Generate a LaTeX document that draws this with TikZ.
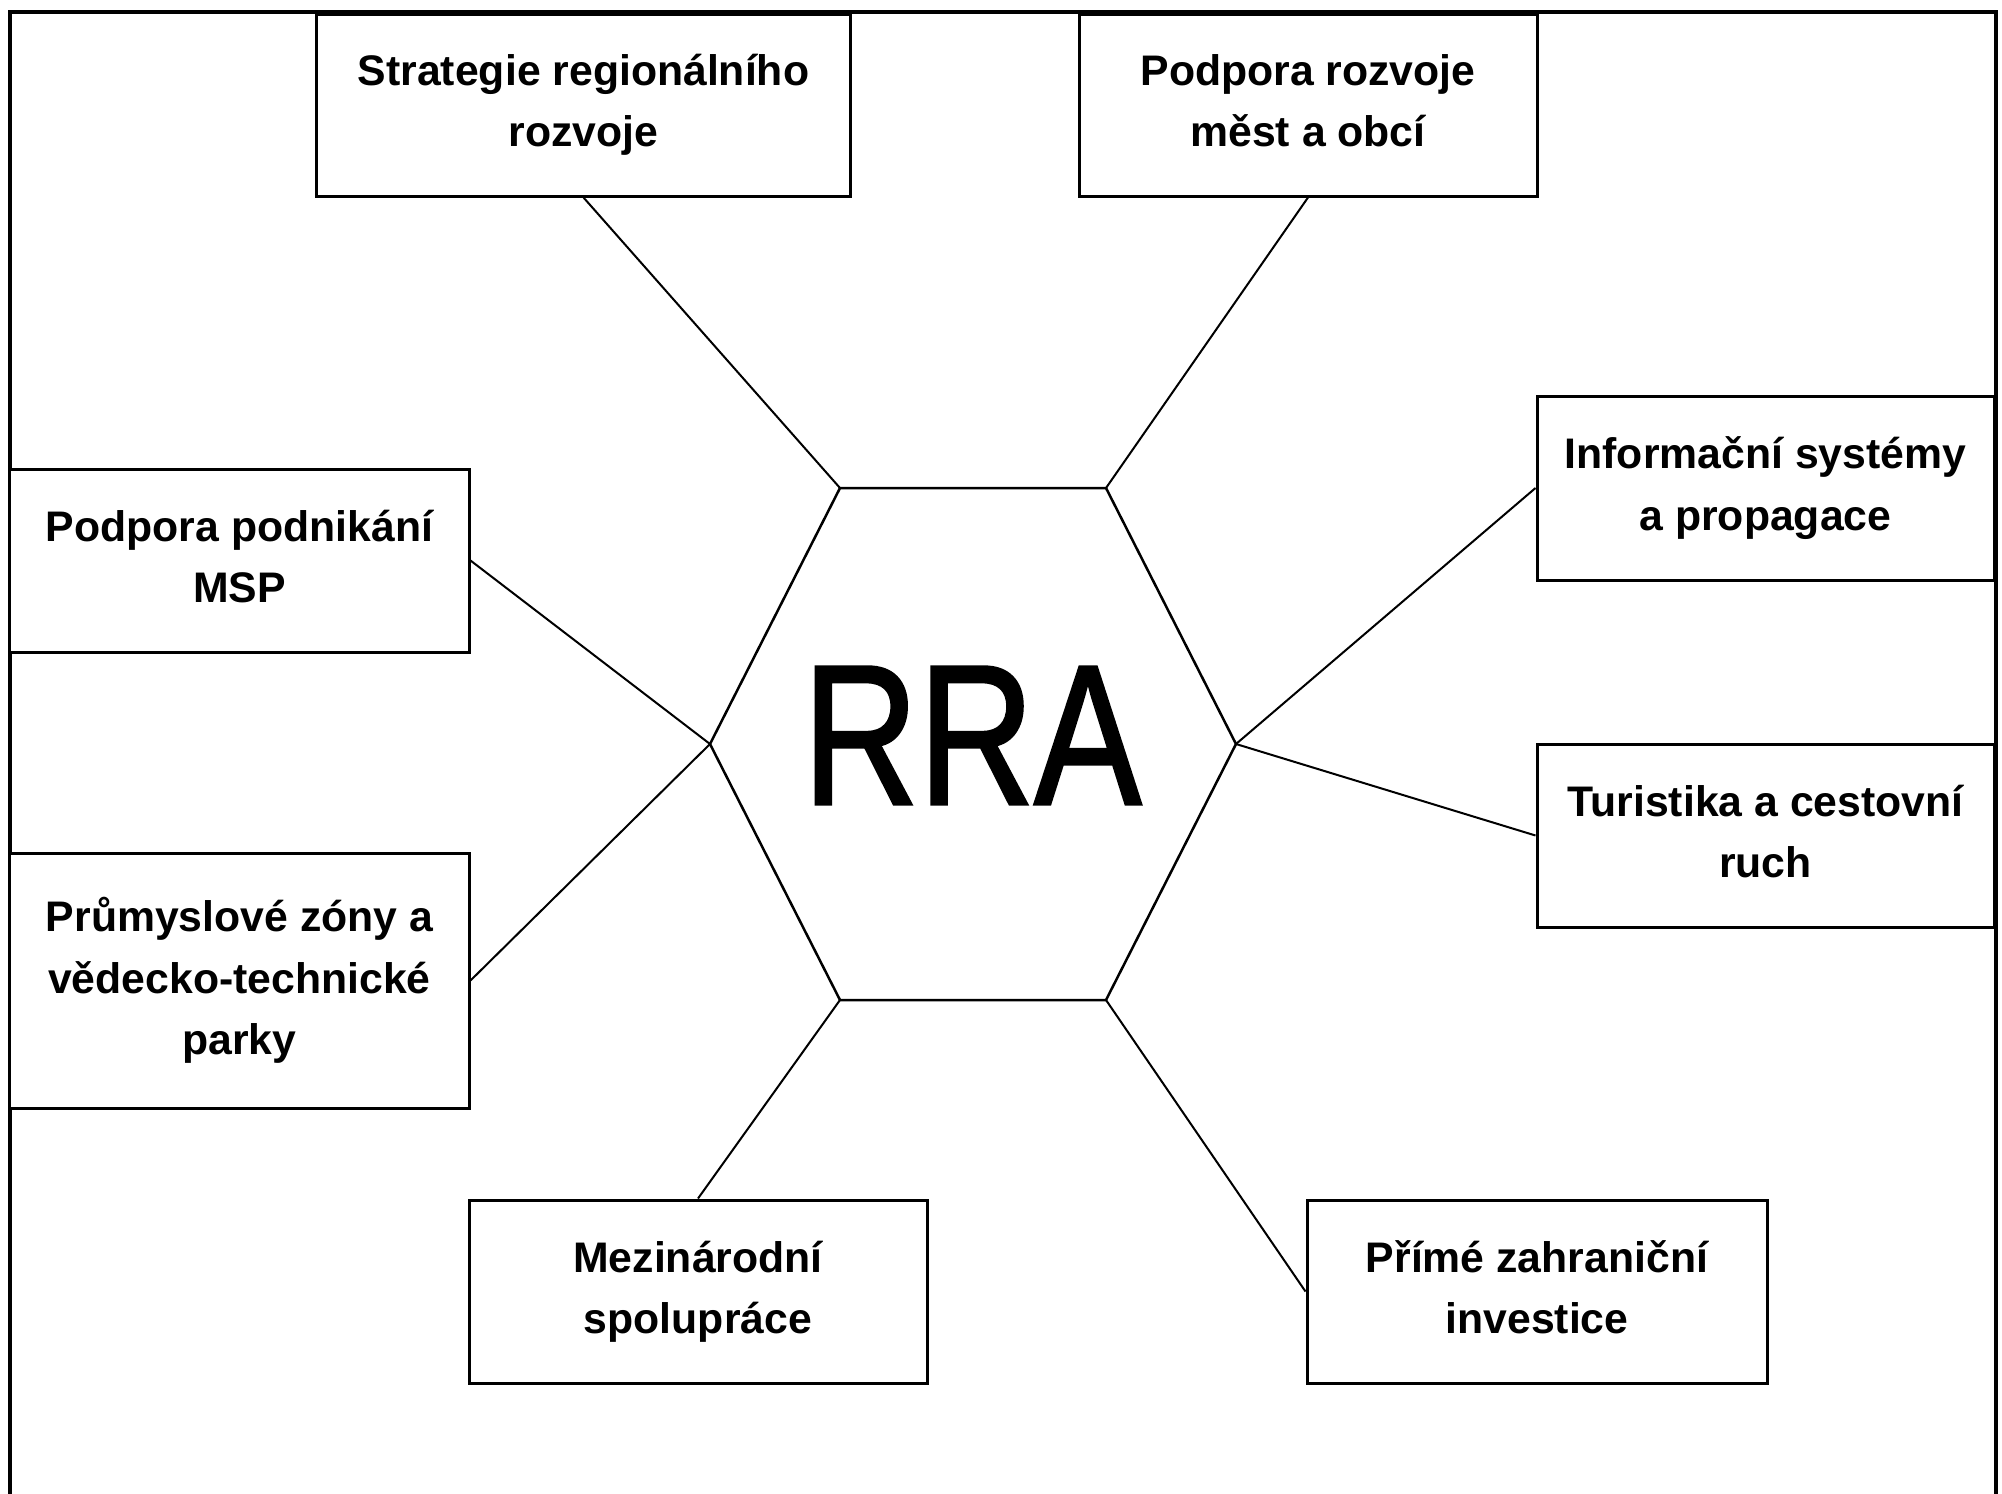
\documentclass[tikz,border=0pt]{standalone}
\usepackage{fontspec}
\setmainfont{Liberation Sans}
\newfontfamily\rrafont[FakeBold=1.6]{Liberation Sans}
\usepackage{graphicx}
\begin{document}
\begin{tikzpicture}[x=0.4pt,y=-0.4pt,
  box/.style={draw=black, line width=1.2pt, fill=white, align=center, inner sep=0pt,
    font=\fontsize{17.1pt}{24.5pt}\selectfont\bfseries},
  link/.style={draw=black, line width=0.8pt},
  hexline/.style={draw=black, line width=1pt},
  frameline/.style={draw=black, line width=1.3pt}]
\useasboundingbox (0,0) rectangle (2002,1494);
% frame (open at bottom)
\draw[frameline] (10,1494) -- (10,12) -- (1996,12) -- (1996,1494);
% hexagon vertices
\coordinate (h1) at (840,488);
\coordinate (h2) at (1106,488);
\coordinate (h3) at (1236,744);
\coordinate (h4) at (1106,1000);
\coordinate (h5) at (840,1000);
\coordinate (h6) at (710,744);
\draw[hexline] (h1) -- (h2) -- (h3) -- (h4) -- (h5) -- (h6) -- cycle;
\node[anchor=base, inner sep=0pt, font=\rrafont\fontsize{79.7pt}{80pt}\selectfont] (rra) at (972,804) {\scalebox{0.805}[1]{RRA}};
% boxes
\node[box, minimum width=213.2pt, minimum height=72.8pt] (b1) at (583.5,105) {Strategie regionálního\\rozvoje};
\node[box, minimum width=183.2pt, minimum height=72.8pt] (b2) at (1308,105) {Podpora rozvoje\\měst a obcí\vphantom{j}};
\node[box, minimum width=182.8pt, minimum height=73.6pt] (b3) at (1765.5,488) {Informační systémy\\a propagace};
\node[box, minimum width=182.8pt, minimum height=73.2pt] (b4) at (1765.5,835.5) {Turistika a cestovní\\ruch\vphantom{j}};
\node[box, minimum width=184pt, minimum height=73.2pt] (b5) at (1537,1291.5) {Přímé zahraniční\\investice\vphantom{j}};
\node[box, minimum width=183.2pt, minimum height=73.2pt] (b6) at (698,1291.5) {Mezinárodní\\spolupráce};
\node[box, minimum width=183.6pt, minimum height=102pt] (b7) at (239.5,980.5) {Průmyslové zóny a\\vědecko-technické\\parky};
\node[box, minimum width=183.6pt, minimum height=73.2pt] (b8) at (239.5,560.5) {Podpora podnikání\\MSP\vphantom{j}};
% connectors
\draw[link] (b1.south) -- (h1);
\draw[link] (b2.south) -- (h2);
\draw[link] (b3.west) -- (h3);
\draw[link] (b4.west) -- (h3);
\draw[link] (b5.west) -- (h4);
\draw[link] (b6.north) -- (h5);
\draw[link] (b7.east) -- (h6);
\draw[link] (b8.east) -- (h6);
\end{tikzpicture}
\end{document}
